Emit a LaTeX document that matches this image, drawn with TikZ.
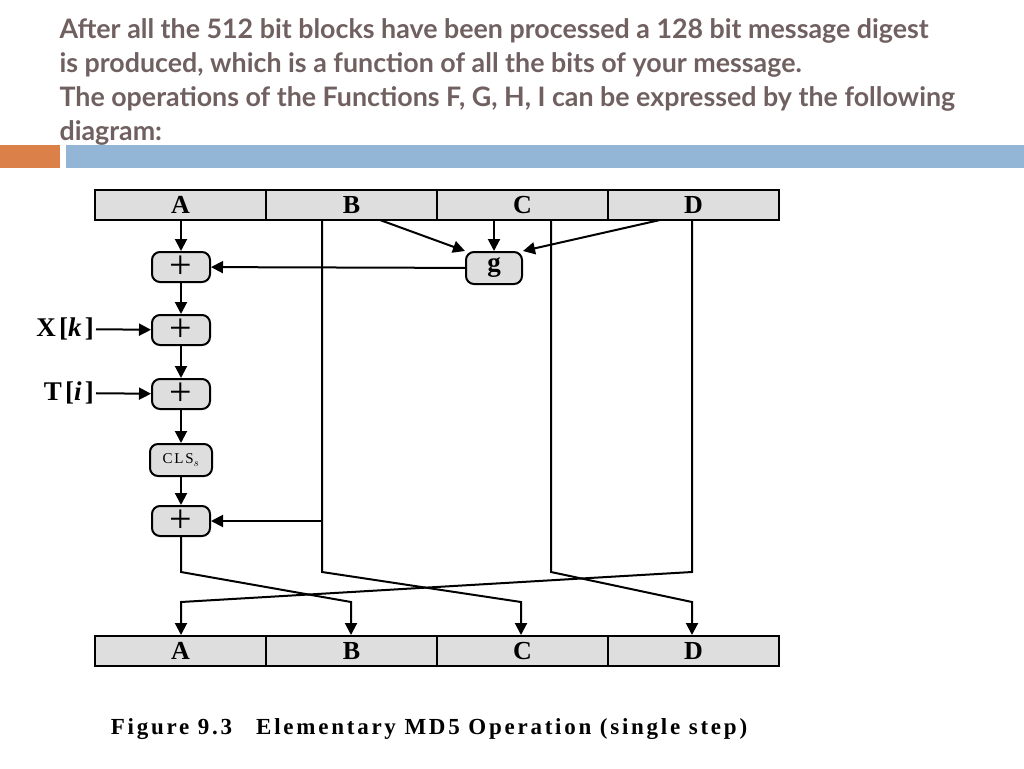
\documentclass[tikz,border=0pt]{standalone}
\usepackage{fontspec}
\setmainfont{Liberation Serif}
\newfontfamily\titlefont{Lato}
\newfontfamily\widefont[LetterSpace=12]{Liberation Serif}
\usepackage{tikz}
\usetikzlibrary{arrows.meta}
\definecolor{titlegray}{RGB}{112,96,96}
\definecolor{barorange}{RGB}{218,128,72}
\definecolor{barblue}{RGB}{148,182,214}
\definecolor{cellgray}{RGB}{222,222,222}
\tikzset{
  reg/.style={draw, line width=2pt, fill=cellgray, minimum width=171pt, minimum height=30pt,
    inner sep=0pt, font=\widefont\bfseries\fontsize{26}{26}\selectfont},
  opbox/.style={draw, line width=2pt, fill=cellgray, rounded corners=8pt, minimum width=58pt,
    minimum height=30pt, inner sep=0pt},
  flow/.style={line width=2pt, -{Triangle[length=12pt,width=12pt]}},
  heading/.style={anchor=west, text=titlegray, font=\titlefont\bfseries\fontsize{26.8}{26.8}\selectfont}
}
\begin{document}
\begin{tikzpicture}[x=1pt, y=-1pt]
      \useasboundingbox (0,0) rectangle (1024,768);
      % heading
      \node[heading] (l1) at (56,31) {After all the 512 bit blocks have been processed a 128 bit message digest};
      \node[heading] (l2) at (56,65) {is produced, which is a function of all the bits of your message.};
      \node[heading] (l3) at (56,99) {The operations of the Functions F, G, H, I can be expressed by the following};
      \node[heading] (l4) at (56,133) {diagram:};
      \fill[barorange] (0,145) rectangle (60,168);
      \fill[barblue] (66,145) rectangle (1024,168);
      % registers
      \foreach \n [count=\i] in {A,B,C,D} {
        \node[reg] (top\n) at (95+171*\i-85.5,205) {\n};
        \node[reg] (bot\n) at (95+171*\i-85.5,651) {\n};
      }
      % operation boxes
      \node[opbox, font=\fontsize{40}{40}\selectfont] (p1) at (181,267) {+};
      \node[opbox, font=\fontsize{40}{40}\selectfont] (p2) at (181,330) {+};
      \node[opbox, font=\fontsize{40}{40}\selectfont] (p3) at (181,394) {+};
      \node[opbox, minimum width=62pt, minimum height=32pt, font=\widefont\fontsize{15}{15}\selectfont] (cls) at (181,460) {CLS$_s$};
      \node[opbox, font=\fontsize{40}{40}\selectfont] (p4) at (181,521) {+};
      \node[opbox, minimum width=56pt, minimum height=32pt, font=\bfseries\fontsize{27}{27}\selectfont] (g) at (494,268) {g};
      \node[anchor=east, inner sep=2pt, font=\widefont\bfseries\fontsize{27}{27}\selectfont] (xk) at (96,329) {X[\textit{k}]};
      \node[anchor=east, inner sep=2pt, font=\widefont\bfseries\fontsize{27}{27}\selectfont] (ti) at (96,393) {T[\textit{i}]};
      \node[font=\widefont\bfseries\fontsize{23}{23}\selectfont] (cap) at (429,729) {Figure 9.3\hspace{24pt}Elementary MD5 Operation (single step)};
      % A chain
      \draw[flow] (topA.south -| p1) -- (p1);
      \draw[flow] (p1) -- (p2);
      \draw[flow] (p2) -- (p3);
      \draw[flow] (p3) -- (cls);
      \draw[flow] (cls) -- (p4);
      \draw[flow] (xk) -- (p2);
      \draw[flow] (ti) -- (p3);
      % function g
      \draw[flow] (380,220) -- (g.north west);
      \draw[flow] (topC.south -| g) -- (g);
      \draw[flow] (660,220) -- (g.north east);
      \draw[flow] (g) -- (p1);
      % pass-through lines and rotation
      \coordinate (bB) at (322,220);
      \coordinate (bC) at (551,220);
      \coordinate (bD) at (692,220);
      \draw[flow] (bB) |- (p4);
      \draw[flow] (p4) -- (181,572) -- (351,602) -- (botB.north -| 351,0);
      \draw[flow] (bB) -- (322,572) -- (521,602) -- (botC.north -| 521,0);
      \draw[flow] (bC) -- (551,572) -- (692,602) -- (botD.north -| 692,0);
      \draw[flow] (bD) -- (692,572) -- (181,602) -- (botA.north -| 181,0);
    \end{tikzpicture}
\end{document}
